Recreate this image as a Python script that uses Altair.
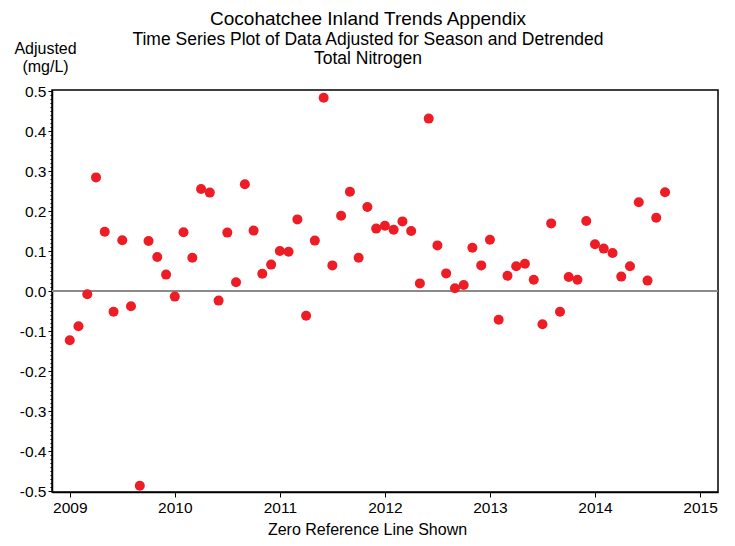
import altair as alt
import pandas as pd

# Decimal year of each monthly observation (Jan 2009 .. Sep 2014)
years = [
    2009.0, 2009.083, 2009.167, 2009.25, 2009.333, 2009.417, 2009.5, 2009.583, 2009.667, 2009.75, 2009.833, 2009.917,
    2010.0, 2010.083, 2010.167, 2010.25, 2010.333, 2010.417, 2010.5, 2010.583, 2010.667, 2010.75, 2010.833, 2010.917,
    2011.0, 2011.083, 2011.167, 2011.25, 2011.333, 2011.417, 2011.5, 2011.583, 2011.667, 2011.75, 2011.833, 2011.917,
    2012.0, 2012.083, 2012.167, 2012.25, 2012.333, 2012.417, 2012.5, 2012.583, 2012.667, 2012.75, 2012.833, 2012.917,
    2013.0, 2013.083, 2013.167, 2013.25, 2013.333, 2013.417, 2013.5, 2013.583, 2013.667, 2013.75, 2013.833, 2013.917,
    2014.0, 2014.083, 2014.167, 2014.25, 2014.333, 2014.417, 2014.5, 2014.583, 2014.667,
]

# Adjusted (mg/L) values
adjusted = [
    -0.123, -0.088, -0.008, 0.284, 0.148, -0.052, 0.127, -0.038, -0.487, 0.125, 0.085, 0.041,
    -0.014, 0.147, 0.083, 0.255, 0.246, -0.024, 0.146, 0.022, 0.267, 0.151, 0.043, 0.066,
    0.100, 0.098, 0.179, -0.062, 0.126, 0.483, 0.064, 0.188, 0.248, 0.083, 0.210, 0.156,
    0.163, 0.153, 0.174, 0.150, 0.019, 0.431, 0.114, 0.044, 0.007, 0.015, 0.108, 0.064,
    0.128, -0.072, 0.038, 0.062, 0.068, 0.028, -0.083, 0.169, -0.052, 0.035, 0.028, 0.175,
    0.117, 0.106, 0.095, 0.036, 0.062, 0.222, 0.026, 0.183, 0.247,
]

x_ticks = [2009, 2010, 2011, 2012, 2013, 2014, 2015]
y_major = [-0.5, -0.4, -0.3, -0.2, -0.1, 0.0, 0.1, 0.2, 0.3, 0.4, 0.5]
y_minor = [round(i * 0.01, 2) for i in range(-50, 51)]

df = pd.DataFrame({"year": years, "adjusted": adjusted})

FONT = "Liberation Sans"
y_scale = alt.Scale(domain=[-0.5025, 0.5025], nice=False, zero=False)

x_enc = alt.X(
    "year:Q",
    scale=alt.Scale(domain=[2008.831, 2015.171], nice=False, zero=False),
    axis=alt.Axis(
        values=x_ticks,
        format="d",
        title="Zero Reference Line Shown",
        titleX=315,
        titleAlign="center",
        grid=False,
        tickSize=5,
        labelPadding=3,
        titlePadding=6,
    ),
)

# zero reference line, carrying the minor-tick axis
zero_line = alt.Chart(df).mark_rule(color="#8a8a8a", strokeWidth=1.5).encode(
    y=alt.Y(
        datum=0,
        scale=y_scale,
        axis=alt.Axis(
            orient="left",
            values=y_minor,
            labels=False,
            domain=False,
            grid=False,
            tickSize=2,
            title=None,
        ),
    )
)

points = alt.Chart(df).mark_circle(size=100, color="#EE1C25", opacity=1).encode(
    x=x_enc,
    y=alt.Y(
        "adjusted:Q",
        scale=y_scale,
        axis=alt.Axis(
            orient="left",
            values=y_major,
            labelExpr="replace(format(datum.value, '.1f'), '\u2212', '-')",
            labelOverlap=False,
            grid=False,
            tickSize=4,
            labelPadding=2,
            title=["Adjusted", "(mg/L)"],
            titleAngle=0,
            titleAlign="center",
            titleBaseline="bottom",
            titleX=-7,
            titleY=-34,
            titleLineHeight=18,
        ),
    ),
)

chart = (
    alt.layer(zero_line, points)
    .resolve_axis(y="independent")
    .properties(
        width=666,
        height=402,
        autosize=alt.AutoSizeParams(type="none"),
        padding={"left": 44, "top": 82, "right": 9, "bottom": 46},
        title=alt.TitleParams(
            text="Cocohatchee Inland Trends Appendix",
            subtitle=["Time Series Plot of Data Adjusted for Season and Detrended", "Total Nitrogen"],
            anchor="middle",
            frame="group",
            dx=-17,
            dy=49,
            offset=22,
            font=FONT,
            fontSize=19,
            fontWeight="normal",
            color="#000",
            subtitleFont=FONT,
            subtitleFontSize=17.5,
            subtitleColor="#000",
            subtitleLineHeight=19,
            subtitlePadding=2,
        ),
    )
    .configure_view(stroke="#000", strokeWidth=1.5)
    .configure_axis(
        labelFont=FONT,
        labelFontSize=15.5,
        labelColor="#000",
        labelOverlap=False,
        titleFont=FONT,
        titleFontSize=16,
        titleFontWeight="normal",
        titleColor="#000",
        domainColor="#000",
        domainWidth=1.5,
        tickColor="#000",
        tickWidth=1,
    )
)

chart.save("out.html", embed_options={"renderer": "svg", "actions": False})
